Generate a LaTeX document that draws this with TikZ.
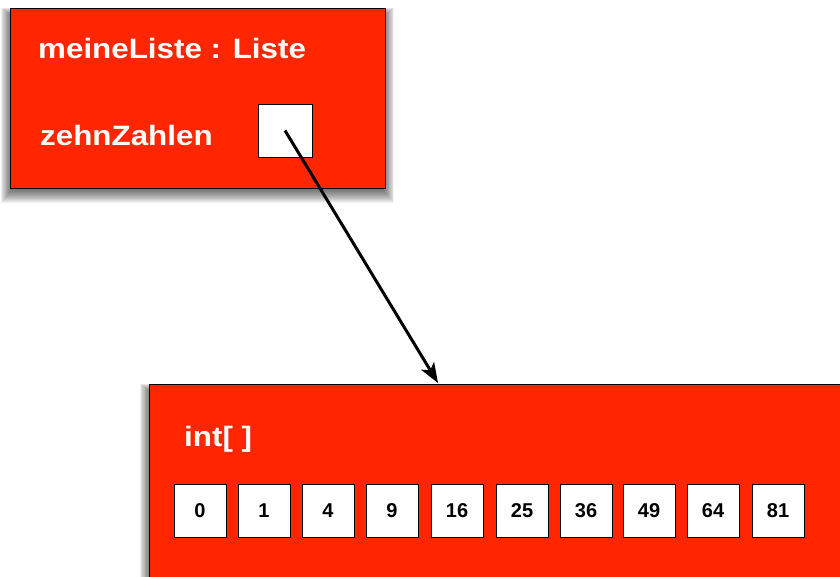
\documentclass[tikz,border=0pt]{standalone}
\usepackage{fontspec}
\setmainfont{Liberation Sans}
\newfontfamily\lblfont[FakeStretch=1.12]{Liberation Sans}
\usetikzlibrary{arrows.meta}
\definecolor{boxred}{RGB}{255,38,0}
\tikzset{
  objbox/.style={draw=black, line width=1.2pt, fill=boxred, anchor=north west, inner sep=0pt},
  shadowlayer/.style={fill=black, fill opacity=0.05, draw=none},
  biglabel/.style={text=white, font=\lblfont\bfseries\fontsize{28}{28}\selectfont, anchor=base west, inner sep=0pt},
  cell/.style={draw=black, line width=1pt, fill=white, minimum width=52pt, minimum height=53pt, inner sep=0pt,
    font=\bfseries\fontsize{20}{20}\selectfont},
  ptrbox/.style={draw=black, line width=1pt, fill=white, minimum width=54pt, minimum height=53pt, inner sep=0pt},
  link/.style={line width=3pt, -{Stealth[length=20pt,width=15pt,inset=5pt]}}
}
\newcommand{\softshadow}[4]{%
  \foreach \k in {1,...,14}{
    \fill[shadowlayer] (#1-0.8*\k+2,#2-0.6*\k+8) rectangle (#3+0.8*\k-2,#4+\k+1);
  }%
}
\begin{document}
\begin{tikzpicture}[x=1pt,y=-1pt]
\path[use as bounding box, clip] (0,0) rectangle (840,576);
\fill[white] (0,0) rectangle (840,576);
% shadows
\softshadow{10}{8}{385}{188}
\softshadow{149}{384}{909}{644}
% top object
\node[objbox, minimum width=375pt, minimum height=180pt] (obj) at (10,8) {};
\node[biglabel] (title) at (38,58) {meineListe : Liste};
\node[biglabel] (field) at (40,145) {zehnZahlen};
\node[ptrbox] (sq) at (285,130.5) {};
% array object
\node[objbox, minimum width=760pt, minimum height=260pt] (arr) at (149,384) {};
\node[biglabel] (type) at (184,446) {int[ ]};
\foreach \v/\x [count=\i] in {0/174,1/238,4/302,9/366,16/431,25/496,36/560,49/623,64/687,81/752}{
  \node[cell] (c\i) at (\x+26,510.5) {\v};
}
\coordinate (tip) at (438,383);
\draw[link] (sq.center) -- (tip);
\end{tikzpicture}
\end{document}
